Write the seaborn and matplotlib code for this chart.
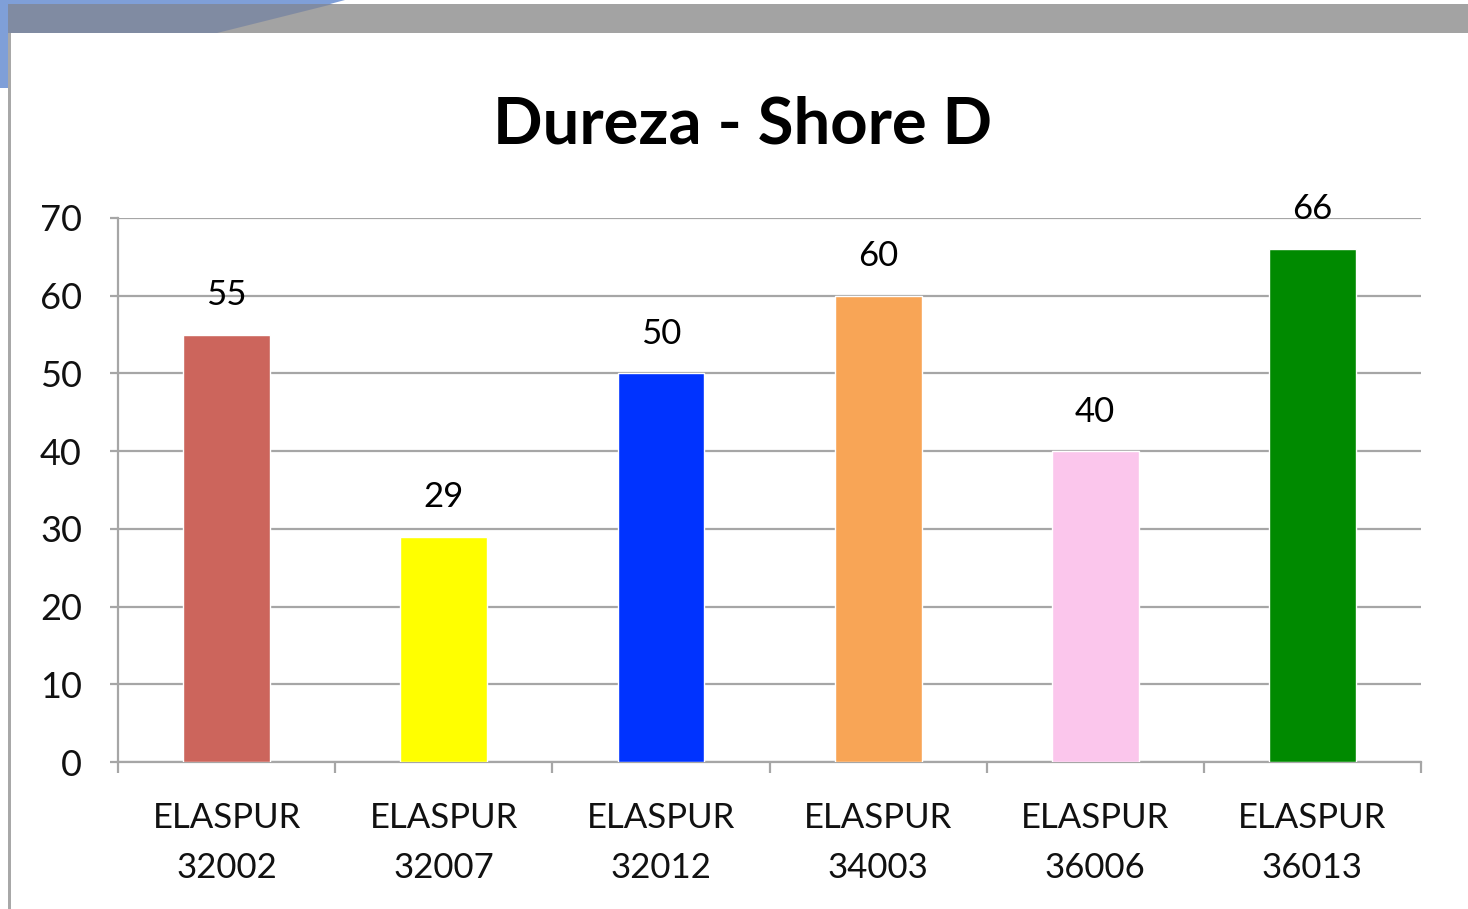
"""
Shore D hardness of the ELASPUR grades, bar chart.
"""
import matplotlib
matplotlib.use('Agg')
import matplotlib.pyplot as plt
import seaborn as sns
import pandas as pd
from matplotlib.patches import Rectangle, Polygon

# data
grades = ['ELASPUR\n32002', 'ELASPUR\n32007', 'ELASPUR\n32012',
          'ELASPUR\n34003', 'ELASPUR\n36006', 'ELASPUR\n36013']
hardness = [55, 29, 50, 60, 40, 66]
bar_colors = ['#CC655C', '#FFFF00', '#0033FF', '#F8A556', '#FBC6EC', '#008A00']
y_ticks = [0, 10, 20, 30, 40, 50, 60, 70]

GRID = '#a6a6a6'
W, H = 1468, 909


def setup_plotting():
    """Configure plotting style."""
    sns.set_theme(style="white")
    plt.rcParams['font.family'] = ['Lato', 'DejaVu Sans']


def px(x, y):
    """Pixel position (from top left) to figure fraction."""
    return (x / W, 1 - y / H)


def draw_frame(fig):
    """Slide decoration round the chart."""
    tf = fig.transFigure
    # blue corner of the slide background
    fig.patches.append(Polygon([px(0, 0), px(345, 0), px(330, 4), px(8, 4),
                                px(8, 88), px(0, 88)], closed=True,
                               transform=tf, facecolor='#7f9fd8',
                               edgecolor='none', zorder=0))
    # gray band at the top
    fig.patches.append(Polygon([px(8, 4), px(W, 4), px(W, 33), px(8, 33)],
                               closed=True, transform=tf, facecolor='#a3a3a3',
                               edgecolor='none', zorder=1))
    # blue showing through the band on the left
    fig.patches.append(Polygon([px(8, 4), px(333, 4), px(217, 33), px(8, 33)],
                               closed=True, transform=tf, facecolor='#808ba2',
                               edgecolor='none', zorder=2))
    # left border
    fig.patches.append(Rectangle(px(8, H), 3 / W, 1 - 33 / H,
                                 transform=tf, facecolor='#a8a8a8',
                                 edgecolor='none', zorder=1))


def main():
    setup_plotting()
    df = pd.DataFrame({'grade': grades, 'hardness': hardness})

    fig = plt.figure(figsize=(14.68, 9.09), dpi=100)
    fig.patch.set_facecolor('white')
    draw_frame(fig)
    ax = fig.add_axes([0.0804, 0.1617, 0.8876, 0.5985])

    sns.barplot(data=df, x='grade', y='hardness', hue='grade',
                palette=bar_colors, legend=False, width=0.4,
                saturation=1, ax=ax, zorder=3)

    for cont in ax.containers:
        ax.bar_label(cont, fmt='%d', padding=17, fontsize=25, color='black')

    ax.set_ylim(0, 70)
    ax.set_xlim(-0.5, len(grades) - 0.5)
    ax.set_yticks(y_ticks)
    ax.set_xlabel('')
    ax.set_ylabel('')
    ax.grid(axis='y', color=GRID, linewidth=1.6, zorder=0)
    ax.set_axisbelow(True)

    for side in ['top', 'right']:
        ax.spines[side].set_visible(False)
    for side in ['left', 'bottom']:
        ax.spines[side].set_color(GRID)
        ax.spines[side].set_linewidth(1.6)

    # x ticks sit between the categories
    ax.set_xticks([i - 0.5 for i in range(len(grades) + 1)], minor=True)
    ax.tick_params(axis='x', which='minor', length=8, width=1.6,
                   color=GRID, direction='out', bottom=True)
    ax.tick_params(axis='x', which='major', length=0, pad=29,
                   labelsize=25, labelcolor='#111111')
    ax.tick_params(axis='y', length=6, width=1.6, color=GRID, direction='out',
                   left=True, pad=20, labelsize=26, labelcolor='#111111')
    for lbl in ax.get_xticklabels():
        lbl.set_linespacing(1.7)

    fig.text(0.506, 0.862, 'Dureza - Shore D', ha='center', va='center',
             fontsize=47, fontweight='bold', color='black')

    plt.savefig('out.png', dpi=100)
    plt.close()


if __name__ == "__main__":
    main()
